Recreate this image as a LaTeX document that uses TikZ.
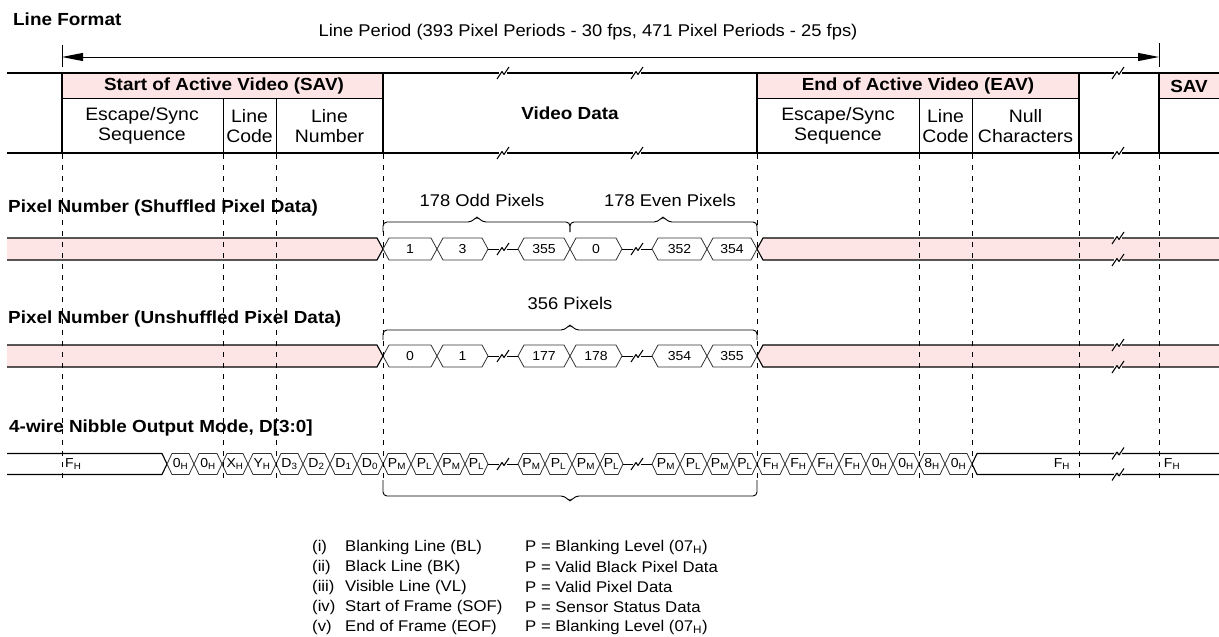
\documentclass[tikz,border=0pt]{standalone}
\usepackage{fontspec}
\setmainfont{Liberation Sans}[FakeStretch=1.08]
\usetikzlibrary{arrows.meta}
\definecolor{pinkbg}{RGB}{253,229,229}
\newcommand{\brk}[3]{%
  \draw[white, line width=#3] (#1-4,#2) -- (#1+4,#2);
  \draw[line width=1pt, line join=round] (#1-6,#2+6) -- (#1-1,#2-1.5) -- (#1+1,#2+1.5) -- (#1+6,#2-6);}
\tikzset{
  frame/.style={line width=2pt},
  thinline/.style={line width=0.9pt},
  bandline/.style={line width=1.1pt},
  cellbox/.style={draw=black!80, line width=0.8pt, fill=white},
  guide/.style={line width=1pt, dash pattern=on 5pt off 6pt},
  brc/.style={line width=0.9pt, rounded corners=4pt},
  lparrow/.style={line width=1pt, {Triangle[length=21pt,width=8pt]}-{Triangle[length=21pt,width=8pt]}},
  lbl/.style={font=\fontsize{17}{20}\selectfont, inner sep=0pt},
  hlbl/.style={font=\fontsize{18}{20}\selectfont, inner sep=0pt, align=center},
  blbl/.style={font=\bfseries\fontsize{17.5}{20}\selectfont, inner sep=0pt},
  clbl/.style={font=\fontsize{13}{15}\selectfont, inner sep=0pt},
  leg/.style={font=\fontsize{15.5}{19}\selectfont, inner sep=0pt, anchor=west}
}

\begin{document}
\begin{tikzpicture}[x=1pt, y=-1pt, line cap=butt, line join=miter]
\useasboundingbox (0,0) rectangle (1219,637);

% title and line period
\node[blbl, anchor=west] (lf) at (13,19) {Line Format};
\node[lbl] (lp) at (588,32) {Line Period (393 Pixel Periods - 30 fps, 471 Pixel Periods - 25 fps)};
\coordinate (lpa) at (62,57);
\coordinate (lpb) at (1159,57);
\draw[lparrow] (lpa) -- (lpb);
\draw[thinline] (62,45) -- (62,67) (1159,43) -- (1159,67);

% header of the line
\fill[pinkbg] (62,73) rectangle (383,98);
\fill[pinkbg] (757,73) rectangle (1079,98);
\fill[pinkbg] (1159,73) rectangle (1219,98);
\draw[thinline] (62,98) -- (383,98) (757,98) -- (1079,98) (1159,98) -- (1219,98);
\foreach \x in {223,276,919,972}
  \draw[thinline] (\x,98) -- (\x,153);
\draw[frame] (7,73) -- (1219,73) (7,153) -- (1219,153);
\foreach \x in {62,383,757,1079,1159}
  \draw[frame] (\x,72) -- (\x,154);
\foreach \x in {503,637,1118}
  {\brk{\x}{73}{2.6pt} \brk{\x}{153}{2.6pt}}

\node[blbl] (sav) at (224,86) {Start of Active Video (SAV)};
\node[hlbl] (esc1) at (142,126) {Escape/Sync\\Sequence};
\node[hlbl] (lc1) at (249.5,126) {Line\\Code};
\node[hlbl] (ln1) at (329.5,126) {Line\\Number};
\node[blbl] (vd) at (570,113) {Video Data};
\node[blbl] (eav) at (918,86) {End of Active Video (EAV)};
\node[hlbl] (esc2) at (838,126) {Escape/Sync\\Sequence};
\node[hlbl] (lc2) at (945.5,126) {Line\\Code};
\node[hlbl] (nul) at (1025.5,126) {Null\\Characters};
\node[blbl] (sav2) at (1189,86) {SAV};

% pixel number rows
\node[blbl, anchor=west] (shlbl) at (8,208) {Pixel Number (Shuffled Pixel Data)};
\node[blbl, anchor=west] (unlbl) at (8,319) {Pixel Number (Unshuffled Pixel Data)};
\foreach \ym/\nm/\la/\lb/\lc/\ld/\le/\lf in {249/s/1/3/355/0/352/354, 356/u/0/1/177/178/354/355}
{
  \begin{scope}[shift={(0,\ym)}]
    \fill[pinkbg] (7,-11) -- (377,-11) -- (383,0) -- (377,11) -- (7,11) -- cycle;
    \fill[pinkbg] (757,0) -- (763,-11) -- (1219,-11) -- (1219,11) -- (763,11) -- cycle;
    \draw[bandline] (7,-11) -- (377,-11) -- (383,0) -- (377,11) -- (7,11);
    \draw[bandline] (1219,-11) -- (763,-11) -- (757,0) -- (763,11) -- (1219,11);
    \foreach \a/\b/\t [count=\i] in {383/437/\la, 437/488/\lb, 518/570/\lc, 570/622/\ld, 652/707/\le, 707/757/\lf}
    {
      \draw[cellbox] (\a,0) -- (\a+6,-11) -- (\b-6,-11) -- (\b,0) -- (\b-6,11) -- (\a+6,11) -- cycle;
      \node[clbl] (\nm\i) at ({(\a+\b)/2},0) {\t};
    }
    \draw[thinline] (488,0) -- (518,0) (622,0) -- (652,0);
    \brk{503}{0}{2pt} \brk{637}{0}{2pt}
    \brk{1118}{-11}{1.6pt} \brk{1118}{11}{1.6pt}
  \end{scope}
}
\draw[brc] (383,232) -- (383,222) -- (472,222) -- (477,216) -- (482,222) -- (570,222) -- (570,232);
\draw[brc] (570,232) -- (570,222) -- (658,222) -- (663,216) -- (668,222) -- (757,222) -- (757,232);
\node[lbl] (odd) at (482,200) {178 Odd Pixels};
\node[lbl] (even) at (670,200) {178 Even Pixels};
\draw[brc] (383,340) -- (383,330) -- (565,330) -- (570,324) -- (575,330) -- (757,330) -- (757,340);
\node[lbl] (all) at (570,303) {356 Pixels};

% nibble output
\node[blbl, anchor=west] (nblbl) at (9,428) {4-wire Nibble Output Mode, D[3:0]};
\begin{scope}[shift={(0,464)}]
  \draw[bandline] (7,-10.5) -- (162,-10.5) -- (167,0) -- (162,10.5) -- (7,10.5);
  \draw[bandline] (1219,-10.5) -- (977,-10.5) -- (972,0) -- (977,10.5) -- (1219,10.5);
  \foreach \a/\b/\m/\s [count=\i] in {167/194/0/H, 194/222/0/H, 222/248/X/H, 248/276/Y/H,
      276/303/D/3, 303/330/D/2, 330/357/D/1, 357/383/D/0,
      383/411/P/M, 411/438/P/L, 438/465/P/M, 465/488/P/L,
      518/545/P/M, 545/572/P/L, 572/600/P/M, 600/623/P/L,
      652/680/P/M, 680/707/P/L, 707/733/P/M, 733/757/P/L,
      757/785/F/H, 785/812/F/H, 812/839/F/H, 839/866/F/H,
      866/893/0/H, 893/919/0/H, 919/945/8/H, 945/972/0/H}
  {
    \draw[cellbox] (\a,0) -- (\a+5,-10.5) -- (\b-5,-10.5) -- (\b,0) -- (\b-5,10.5) -- (\a+5,10.5) -- cycle;
    \node[clbl] (n\i) at ({(\a+\b)/2},0) {\m\textsubscript{\s}};
  }
  \draw[thinline] (488,0) -- (518,0) (623,0) -- (652,0);
  \brk{503}{0}{2pt} \brk{637}{0}{2pt}
  \brk{1118}{-10.5}{1.6pt} \brk{1118}{10.5}{1.6pt}
  \node[clbl, anchor=west] (nfa) at (65,0) {F\textsubscript{H}};
  \node[clbl] (nfb) at (1062,0) {F\textsubscript{H}};
  \node[clbl] (nfc) at (1172,0) {F\textsubscript{H}};
\end{scope}
\draw[brc] (383,480) -- (383,496) -- (565,496) -- (570,502) -- (575,496) -- (757,496) -- (757,480);

% guides
\foreach \x in {62,223,276,383,757,919,972,1079,1159}
  \draw[guide] (\x,154) -- (\x,478);

% legend
\foreach \r/\d/\p [count=\i] in {(i)/Blanking Line (BL)/P = Blanking Level (07\textsubscript{H}),
    (ii)/Black Line (BK)/P = Valid Black Pixel Data,
    (iii)/Visible Line (VL)/P = Valid Pixel Data,
    (iv)/Start of Frame (SOF)/P = Sensor Status Data,
    (v)/End of Frame (EOF)/P = Blanking Level (07\textsubscript{H})}
{
  \node[leg] (r\i) at (312,527+20*\i) {\r};
  \node[leg] (d\i) at (345,527+20*\i) {\d};
  \node[leg] (p\i) at (525,527+20*\i) {\p};
}
\end{tikzpicture}
\end{document}
